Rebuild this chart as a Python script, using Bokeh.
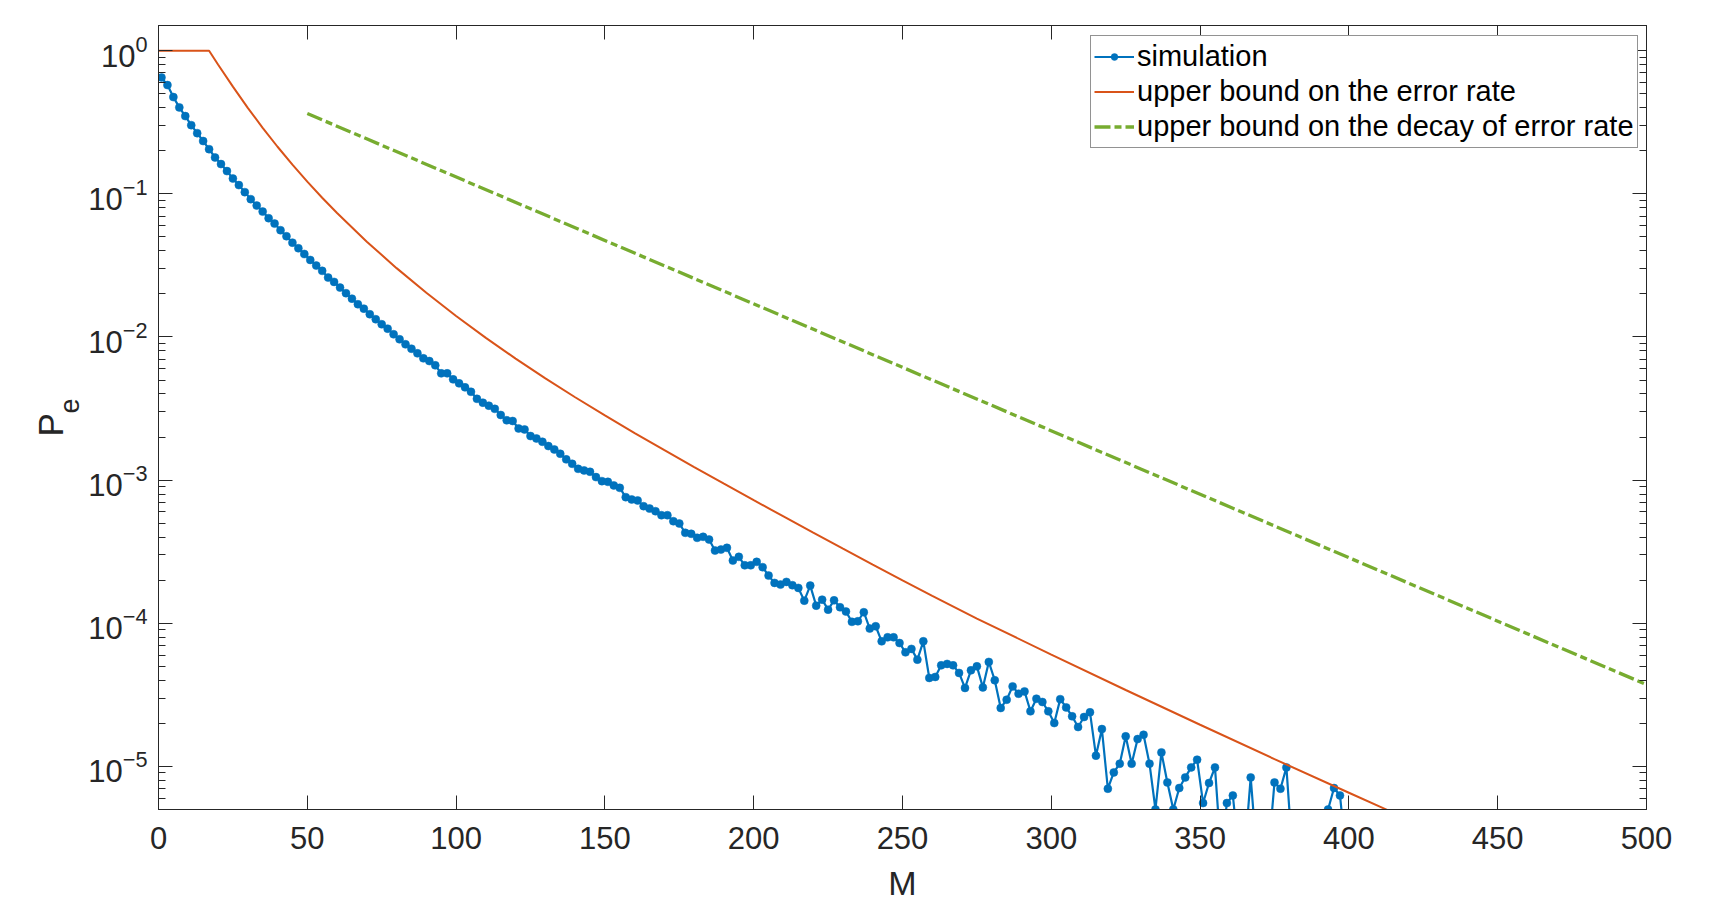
import numpy as np
from bokeh.plotting import figure
from bokeh.models import (Range1d, LinearAxis, LogAxis, FixedTicker, LogTickFormatter,
                          Legend, LegendItem, Title, CustomJSTickFormatter)
from bokeh.embed import file_html
from bokeh.resources import INLINE

# ---------------- data ----------------
sim_M = list(range(1, 400, 2))
sim_log10_pe = [
    -0.187, -0.240, -0.324, -0.396, -0.457, -0.520, -0.576, -0.631, -0.688, -0.746,
    -0.792, -0.841, -0.893, -0.939, -0.988, -1.037, -1.082, -1.124, -1.170, -1.208,
    -1.254, -1.296, -1.341, -1.380, -1.420, -1.462, -1.501, -1.538, -1.585, -1.615,
    -1.655, -1.694, -1.732, -1.771, -1.802, -1.841, -1.876, -1.911, -1.942, -1.981,
    -2.016, -2.051, -2.082, -2.114, -2.149, -2.168, -2.198, -2.254, -2.254, -2.296,
    -2.324, -2.352, -2.383, -2.432, -2.459, -2.480, -2.502, -2.545, -2.582, -2.587,
    -2.639, -2.646, -2.692, -2.709, -2.732, -2.762, -2.786, -2.816, -2.855, -2.886,
    -2.921, -2.932, -2.942, -2.979, -3.007, -3.012, -3.037, -3.054, -3.119, -3.135,
    -3.142, -3.182, -3.198, -3.217, -3.245, -3.245, -3.287, -3.303, -3.368, -3.375,
    -3.403, -3.396, -3.415, -3.492, -3.485, -3.473, -3.562, -3.536, -3.595, -3.595,
    -3.571, -3.608, -3.667, -3.718, -3.730, -3.711, -3.734, -3.753, -3.842, -3.737,
    -3.877, -3.835, -3.905, -3.840, -3.888, -3.918, -3.990, -3.986, -3.923, -4.037,
    -4.021, -4.126, -4.098, -4.098, -4.138, -4.203, -4.179, -4.254, -4.126, -4.382,
    -4.375, -4.294, -4.284, -4.294, -4.347, -4.452, -4.329, -4.301, -4.448, -4.270,
    -4.398, -4.592, -4.534, -4.441, -4.492, -4.476, -4.615, -4.527, -4.550, -4.615,
    -4.697, -4.530, -4.588, -4.650, -4.725, -4.655, -4.622, -4.925, -4.739, -5.156,
    -5.042, -4.981, -4.790, -4.981, -4.809, -4.779, -4.981, -5.301, -4.902, -5.112,
    -5.301, -5.151, -5.077, -5.007, -4.953, -5.256, -5.116, -5.007, -5.602, -5.256,
    -5.203, -5.602, -5.602, -5.077, -5.602, -5.602, -5.602, -5.112, -5.156, -5.007,
    -5.602, -5.602, -5.602, -5.602, -5.602, -5.602, -5.301, -5.151, -5.203, -5.602,
]

bound_M = [0, 17, 20, 25, 30, 35, 40, 45, 50, 55, 60, 70, 80, 90, 100, 110, 120, 130,
           140, 150, 160, 170, 180, 190, 200, 210, 220, 230, 240, 250, 260, 275, 300,
           325, 350, 375, 400, 413, 450, 500]
bound_log10_pe = [0.0, 0.0, -0.096, -0.251, -0.399, -0.539, -0.671, -0.796, -0.915, -1.027,
                  -1.134, -1.334, -1.519, -1.691, -1.853, -2.006, -2.151, -2.289, -2.421,
                  -2.548, -2.671, -2.791, -2.909, -3.025, -3.140, -3.254, -3.367, -3.479,
                  -3.590, -3.700, -3.809, -3.967, -4.219, -4.466, -4.709, -4.949, -5.184,
                  -5.305, -5.650, -6.110]

decay_M = [50, 500]
decay_pe = [0.364, 3.73e-5]

x_ticks = [0, 50, 100, 150, 200, 250, 300, 350, 400, 450, 500]
y_ticks = [1e-5, 1e-4, 1e-3, 1e-2, 1e-1, 1e0]
y_minor = [k * 10.0 ** d for d in range(-6, 0) for k in range(2, 10)]

legend_labels = ["simulation", "upper bound on the error rate",
                 "upper bound on the decay of error rate"]

sim_pe = [10.0 ** v for v in sim_log10_pe]
bound_pe = [10.0 ** v for v in bound_log10_pe]

# ---------------- styling ----------------
FONT = "Liberation Sans"
AX = "#262626"
BLUE = "#0072BD"
RED = "#D95319"
GREEN = "#77AC30"

p = figure(frame_width=1488, frame_height=784,
           x_range=Range1d(0, 500), y_range=Range1d(5e-6, 1.5),
           y_axis_type="log", output_backend="svg", toolbar_location=None,
           min_border_left=158, min_border_top=25, min_border_right=40,
           min_border_bottom=60)
p.xgrid.visible = False
p.ygrid.visible = False
p.outline_line_color = AX
p.outline_line_width = 1
p.background_fill_color = "white"
p.border_fill_color = "white"

sim_line = p.line(sim_M, sim_pe, line_color=BLUE, line_width=2.2)
sim_dots = p.scatter(sim_M, sim_pe, marker="circle", size=8, line_color=BLUE,
                     line_width=0.5, fill_color=BLUE)
bound_line = p.line(bound_M, bound_pe, line_color=RED, line_width=2)
decay_line = p.line(decay_M, decay_pe, line_color=GREEN, line_width=3.3,
                    line_dash="16 4 7 4")

def style_axis(ax):
    ax.axis_line_color = AX
    ax.axis_line_width = 1
    ax.major_tick_line_color = AX
    ax.minor_tick_line_color = AX
    ax.major_tick_in = 14
    ax.major_tick_out = 0
    ax.minor_tick_in = 7
    ax.minor_tick_out = 0
    ax.major_label_text_font = FONT
    ax.major_label_text_font_size = "31px"
    ax.major_label_text_color = AX

xa = p.xaxis[0]
style_axis(xa)
xa.ticker = FixedTicker(ticks=x_ticks)
xa.minor_tick_line_color = None
xa.major_label_standoff = 17
xa.axis_label = "M"
xa.axis_label_text_font = FONT
xa.axis_label_text_font_size = "34px"
xa.axis_label_text_font_style = "normal"
xa.axis_label_text_color = AX
xa.axis_label_standoff = 12

ya = p.yaxis[0]
style_axis(ya)
ya.ticker = FixedTicker(ticks=y_ticks, minor_ticks=y_minor)
ya.formatter = LogTickFormatter()
ya.major_label_standoff = 11

top = LinearAxis(ticker=FixedTicker(ticks=x_ticks),
                 formatter=CustomJSTickFormatter(code="return ''"))
style_axis(top)
top.minor_tick_line_color = None
top.major_label_text_font_size = "0px"
top.major_label_standoff = 0
p.add_layout(top, "above")

right = LogAxis(ticker=FixedTicker(ticks=y_ticks, minor_ticks=y_minor),
                formatter=CustomJSTickFormatter(code="return ''"))
style_axis(right)
right.major_label_text_font_size = "0px"
right.major_label_standoff = 0
p.add_layout(right, "right")

# y label  P_e  (subscript e placed next to P)
t_e = Title(text="e", align="left", offset=396, standoff=12.6, vertical_align="bottom",
            text_font=FONT, text_font_size="27px", text_font_style="normal",
            text_color=AX)
p.add_layout(t_e, "left")
t_p = Title(text="P", align="left", offset=373, standoff=-36.8, vertical_align="bottom",
            text_font=FONT, text_font_size="35px", text_font_style="normal",
            text_color=AX)
p.add_layout(t_p, "left")

legend = Legend(items=[LegendItem(label=legend_labels[0], renderers=[sim_line, sim_dots]),
                       LegendItem(label=legend_labels[1], renderers=[bound_line]),
                       LegendItem(label=legend_labels[2], renderers=[decay_line])],
                location=(932, 661), orientation="vertical",
                label_text_font=FONT, label_text_font_size="29px", label_text_color="black",
                glyph_width=40, glyph_height=17, label_height=35, label_standoff=3,
                padding=3, spacing=0, margin=0,
                border_line_color=AX, border_line_width=1,
                background_fill_color="white", background_fill_alpha=1.0)
p.add_layout(legend)

open("out.html", "w").write(file_html(p, INLINE))
